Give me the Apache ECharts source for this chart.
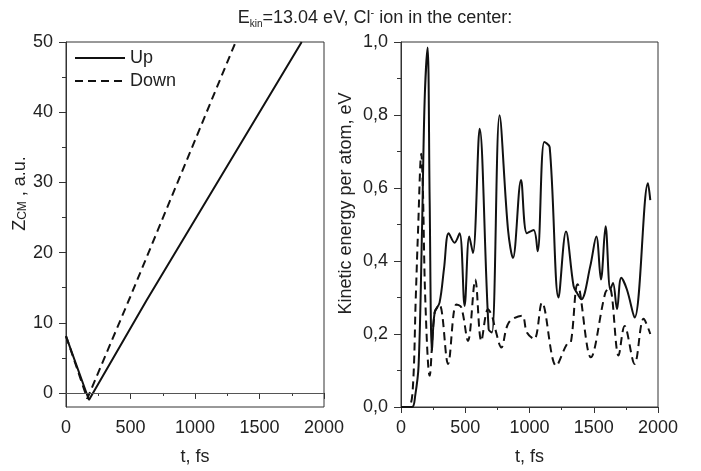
<!DOCTYPE html>
<html>
<head>
<meta charset="utf-8">
<script src="https://cdn.jsdelivr.net/npm/echarts@6/dist/echarts.min.js"></script>
<style>
  html, body { margin: 0; padding: 0; background: #fff; }
  #chart { width: 701px; height: 471px; }
</style>
</head>
<body>
<div id="chart"></div>
<script>
// left panel: center-of-mass coordinate
const zUp = [[0, 8.1], [178, -1.0], [625, 13.2], [1827, 50]]
const zDown = [[0, 8.1], [165, -0.8], [496, 13.6], [1315, 50]]
const zTicks = [0, 10, 20, 30, 40, 50]
const zMinorTicks = [5, 15, 25, 35, 45]

// right panel: kinetic energy per atom
const keUp = [
  [0, 0], [86, 0], [110, 0.03], [137, 0.114], [163, 0.476], [184, 0.84], [207, 0.985],
  [223, 0.567], [241, 0.154], [262, 0.259], [300, 0.286], [335, 0.38], [371, 0.476],
  [417, 0.45], [456, 0.476], [495, 0.277], [531, 0.467], [560, 0.422], [612, 0.762],
  [682, 0.213], [708, 0.204], [767, 0.799], [833, 0.485], [871, 0.408], [934, 0.622],
  [980, 0.476], [1032, 0.485], [1063, 0.427], [1115, 0.726], [1157, 0.712], [1226, 0.30],
  [1284, 0.481], [1343, 0.331], [1369, 0.313], [1403, 0.295], [1473, 0.386], [1520, 0.467],
  [1556, 0.349], [1592, 0.495], [1629, 0.322], [1650, 0.34], [1681, 0.268], [1714, 0.354],
  [1758, 0.322], [1818, 0.245], [1922, 0.613], [1940, 0.567]
]
const keDown = [
  [0, 0], [57, 0], [90, 0.041], [115, 0.3], [132, 0.476], [158, 0.694], [170, 0.6],
  [189, 0.295], [223, 0.086], [262, 0.259], [300, 0.28], [366, 0.118], [430, 0.281],
  [469, 0.273], [521, 0.181], [578, 0.349], [625, 0.181], [677, 0.268], [708, 0.25],
  [734, 0.213], [781, 0.163], [838, 0.231], [941, 0.25], [980, 0.204], [1037, 0.186],
  [1097, 0.286], [1208, 0.113], [1291, 0.172], [1322, 0.177], [1374, 0.336], [1477, 0.136],
  [1590, 0.313], [1623, 0.327], [1693, 0.141], [1740, 0.222], [1818, 0.118], [1888, 0.242],
  [1940, 0.2]
]
const keTickLabels = ['0,0', '0,2', '0,4', '0,6', '0,8', '1,0']

const font = 'Liberation Sans'
const ink = '#222'

const myChart = echarts.init(document.getElementById('chart'))

const xAxisBase = {
  type: 'value',
  min: 0,
  max: 2000,
  interval: 500,
  name: 't, fs',
  nameLocation: 'middle',
  nameGap: 41,
  nameTextStyle: { fontFamily: font, fontSize: 18, color: ink },
  axisLine: { lineStyle: { color: '#333', width: 1 } },
  axisTick: { length: 6, lineStyle: { color: '#333' } },
  minorTick: { show: true, splitNumber: 2, length: 3, lineStyle: { color: '#333' } },
  axisLabel: { fontFamily: font, fontSize: 18, color: ink, margin: 12, formatter: (v) => String(v) },
  splitLine: { show: false },
}

const option = {
  animation: false,
  title: {
    text: '{t|E}{sub|kin}{t|=13.04 eV, Cl}{sup|-}{t| ion in the center:}',
    left: 370,
    textAlign: 'center',
    top: 2,
    textStyle: {
      fontWeight: 'normal',
      rich: {
        t: { fontFamily: font, fontSize: 18, fontWeight: 'normal', color: ink, lineHeight: 22 },
        sub: { fontFamily: font, fontSize: 10, fontWeight: 'normal', color: ink, lineHeight: 10, verticalAlign: 'bottom' },
        sup: { fontFamily: font, fontSize: 11, fontWeight: 'normal', color: ink, lineHeight: 10, verticalAlign: 'top' },
      },
    },
  },
  legend: {
    data: ['Up', 'Down'],
    orient: 'vertical',
    left: 69,
    top: 44,
    itemWidth: 50,
    itemHeight: 14,
    itemGap: 5,
    itemStyle: { opacity: 0 },
    textStyle: { fontFamily: font, fontSize: 18, color: ink },
  },
  grid: [
    { left: 66, top: 42, width: 258, height: 368, show: true, borderColor: '#333', borderWidth: 1 },
    { left: 401, top: 42, width: 257, height: 368, show: true, borderColor: '#333', borderWidth: 1 },
  ],
  xAxis: [
    Object.assign({ gridIndex: 0 }, xAxisBase),
    Object.assign({ gridIndex: 1 }, xAxisBase),
  ],
  yAxis: [
    {
      gridIndex: 0,
      type: 'value',
      min: -2,
      max: 50,
      name: '{z|Z}{sub|CM}{z| , a.u.}',
      nameLocation: 'middle',
      nameGap: 31,
      nameTextStyle: {
        padding: [0, 0, 0, 62],
        rich: {
          z: { fontFamily: font, fontSize: 18, color: ink },
          sub: { fontFamily: font, fontSize: 12, color: ink, verticalAlign: 'bottom', padding: [6, 0, 0, 0] },
        },
      },
      axisLine: { lineStyle: { color: '#333' } },
      axisTick: { length: 7, customValues: zTicks, lineStyle: { color: '#333' } },
      axisLabel: { customValues: zTicks, fontFamily: font, fontSize: 18, color: ink, margin: 13 },
      splitLine: { show: false },
    },
    {
      // minor ticks for the left panel
      gridIndex: 0,
      type: 'value',
      min: -2,
      max: 50,
      position: 'left',
      axisLine: { show: false },
      axisTick: { length: 4, customValues: zMinorTicks, lineStyle: { color: '#333' } },
      axisLabel: { show: false, customValues: zMinorTicks },
      splitLine: { show: false },
    },
    {
      gridIndex: 1,
      type: 'value',
      min: 0,
      max: 1,
      interval: 0.2,
      name: 'Kinetic energy per atom, eV',
      nameLocation: 'middle',
      nameGap: 46,
      nameTextStyle: { fontFamily: font, fontSize: 18, color: ink, padding: [0, 0, 0, 42] },
      axisLine: { lineStyle: { color: '#333' } },
      axisTick: { length: 7, lineStyle: { color: '#333' } },
      minorTick: { show: true, splitNumber: 2, length: 4, lineStyle: { color: '#333' } },
      axisLabel: {
        fontFamily: font, fontSize: 18, color: ink, margin: 13,
        formatter: (v) => keTickLabels[Math.round(v * 5)],
      },
      splitLine: { show: false },
    },
  ],
  series: [
    {
      name: 'Up',
      type: 'line',
      xAxisIndex: 0,
      yAxisIndex: 0,
      data: zUp,
      symbol: 'none',
      lineStyle: { color: '#111', width: 2 },
      itemStyle: { color: '#111' },
      markLine: {
        silent: true,
        symbol: 'none',
        label: { show: false },
        lineStyle: { color: '#555', width: 1, type: 'solid' },
        data: [{ yAxis: 0 }],
      },
    },
    {
      name: 'Down',
      type: 'line',
      xAxisIndex: 0,
      yAxisIndex: 0,
      data: zDown,
      symbol: 'none',
      lineStyle: { color: '#111', width: 2, type: [8, 5] },
      itemStyle: { color: '#111' },
    },
    {
      name: 'Up',
      type: 'line',
      xAxisIndex: 1,
      yAxisIndex: 2,
      data: keUp,
      symbol: 'none',
      smooth: 0.35,
      lineStyle: { color: '#111', width: 2 },
      itemStyle: { color: '#111' },
    },
    {
      name: 'Down',
      type: 'line',
      xAxisIndex: 1,
      yAxisIndex: 2,
      data: keDown,
      symbol: 'none',
      smooth: 0.35,
      lineStyle: { color: '#111', width: 2, type: [8, 5] },
      itemStyle: { color: '#111' },
    },
  ],
}

option && myChart.setOption(option)
</script>
</body>
</html>
